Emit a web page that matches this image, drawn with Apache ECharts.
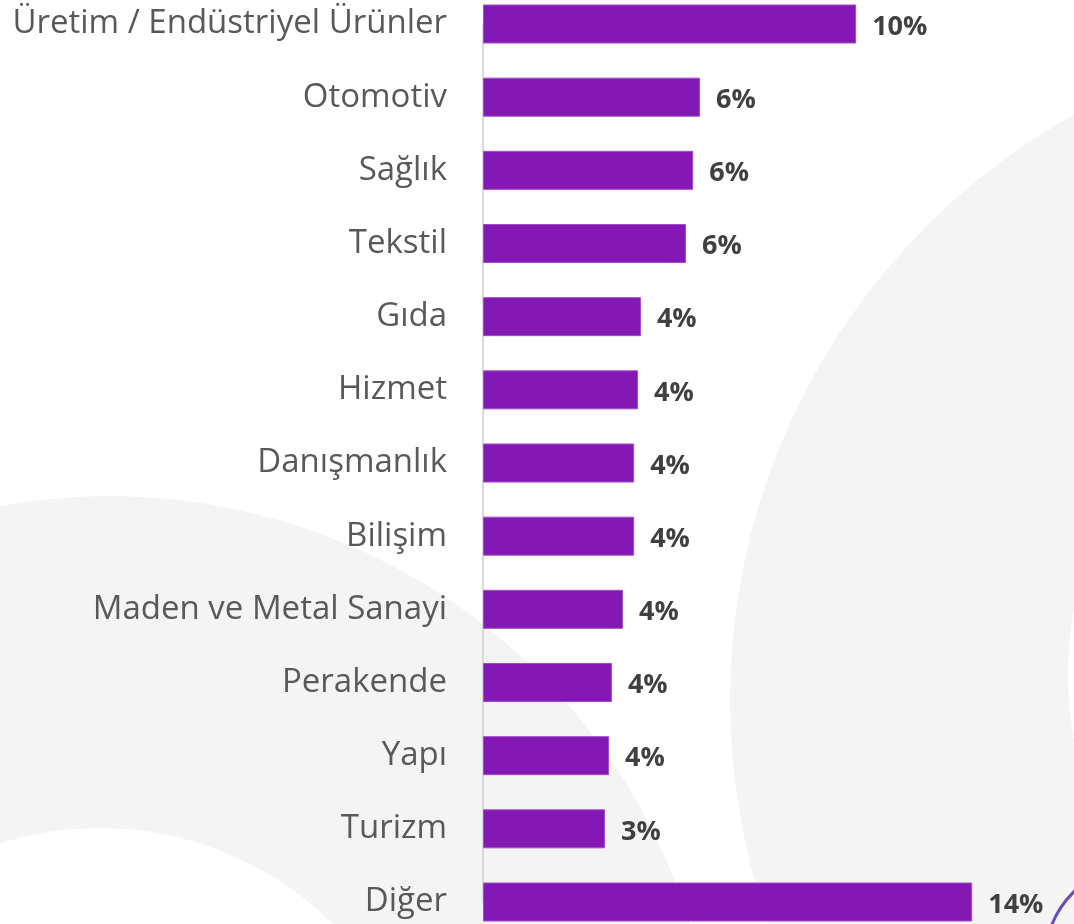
<!DOCTYPE html>
<html>
<head>
<meta charset="utf-8">
<script src="https://cdn.jsdelivr.net/npm/echarts@6/dist/echarts.min.js"></script>
<style>
html,body{margin:0;padding:0;background:#fff;}
#c{width:1074px;height:924px;}
</style>
</head>
<body>
<div id="c"></div>
<script>
var categories = ['Üretim / Endüstriyel Ürünler','Otomotiv','Sağlık','Tekstil','Gıda','Hizmet','Danışmanlık','Bilişim','Maden ve Metal Sanayi','Perakende','Yapı','Turizm','Diğer'];
var values = [10.42, 6.06, 5.87, 5.67, 4.41, 4.33, 4.22, 4.22, 3.91, 3.60, 3.52, 3.41, 13.66];
var valueLabels = ['10%','6%','6%','6%','4%','4%','4%','4%','4%','4%','4%','3%','14%'];

var chart = echarts.init(document.getElementById('c'));
var option = {
  backgroundColor: '#ffffff',
  animation: false,
  graphic: [
    {type:'circle', z:-100, silent:true, shape:{cx:1400, cy:700, r:670}, style:{fill:'#F4F4F4'}},
    {type:'circle', z:-99, silent:true, shape:{cx:1423, cy:675, r:355}, style:{fill:'#ffffff'}},
    {type:'circle', z:-100, silent:true, shape:{cx:110, cy:1103, r:607}, style:{fill:'#F4F4F4'}},
    {type:'circle', z:-99, silent:true, shape:{cx:100, cy:1159, r:331}, style:{fill:'#ffffff'}},
    {type:'circle', z:-98, silent:true, shape:{cx:1140, cy:960, r:95}, style:{fill:'none', stroke:'#6A4DB8', lineWidth:3}}
  ],
  grid: {left: 483, right: 18, top: 24, bottom: 22, containLabel: false},
  xAxis: {
    type: 'value', min: 0, max: 16,
    show: false
  },
  yAxis: {
    type: 'category', data: categories, inverse: true, boundaryGap: false,
    axisLine: {show: true, lineStyle: {color: '#D9D9D9', width: 2}},
    axisTick: {show: false},
    axisLabel: {color: '#595959', fontSize: 33, fontFamily: 'Open Sans', margin: 36, padding: [6, 0, 0, 0]}
  },
  series: [{
    type: 'bar',
    data: values,
    barWidth: 39,
    itemStyle: {color: '#8418B4', borderColor: '#A24BCB', borderWidth: 1},
    label: {
      show: true, position: 'right', distance: 16, offset: [0, 3],
      color: '#404040', fontSize: 27, fontWeight: 'bold', fontFamily: 'Open Sans',
      formatter: function (p) { return valueLabels[p.dataIndex]; }
    }
  }]
};
chart.setOption(option);
</script>
</body>
</html>
